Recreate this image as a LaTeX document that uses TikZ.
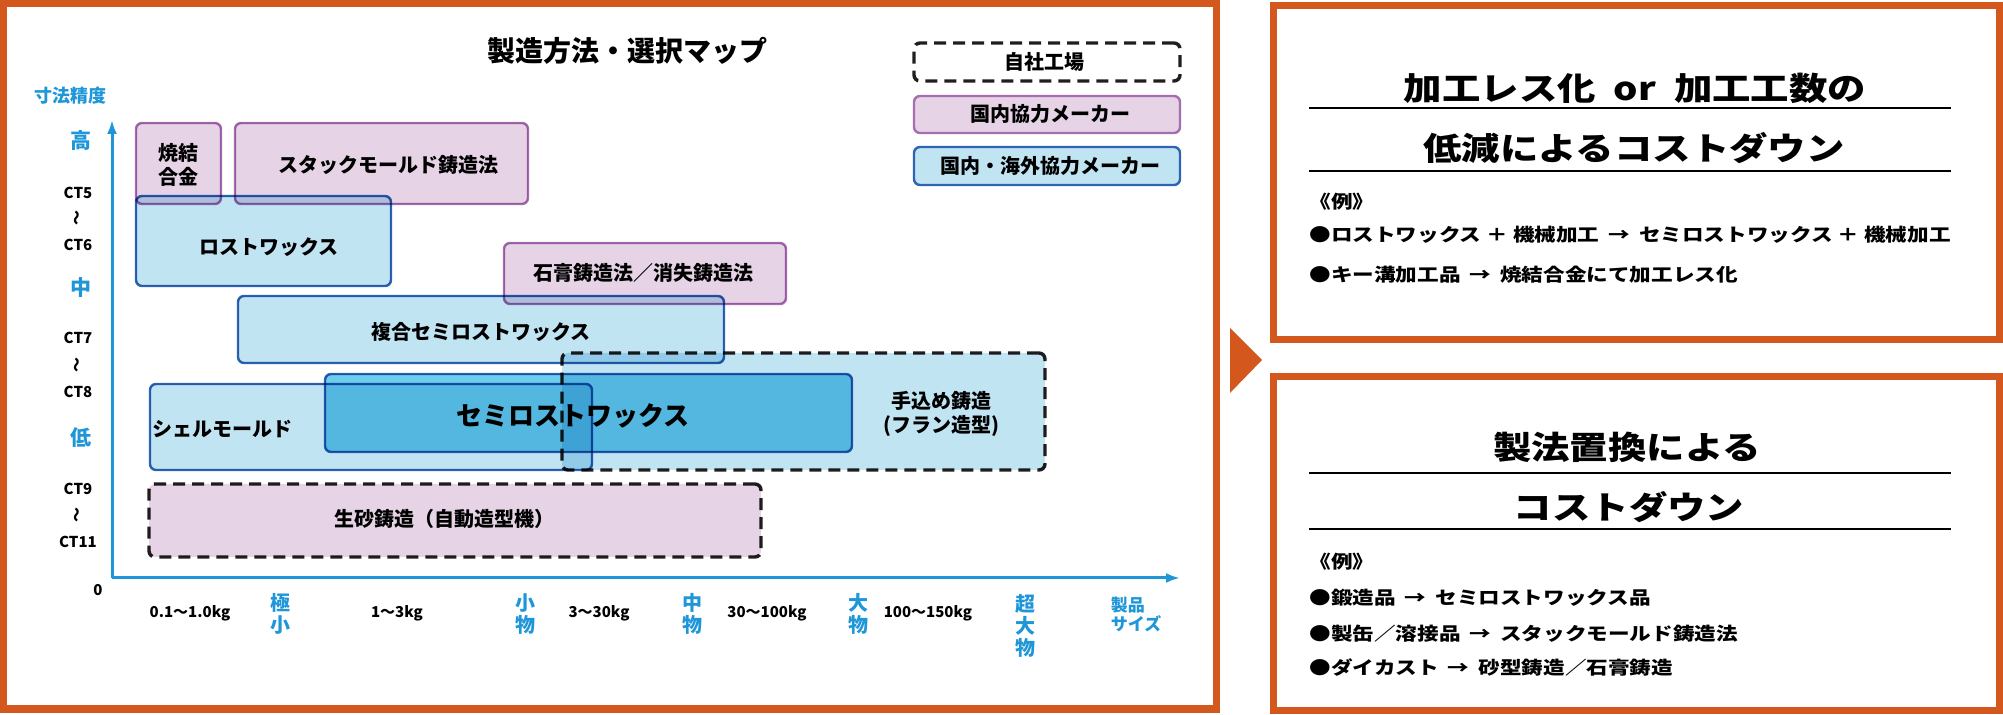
\documentclass[tikz,border=0pt]{standalone}
\usepackage{fontspec}
\setmainfont{Noto Sans CJK JP}
\newfontfamily\widejp{Noto Sans CJK JP}[FakeStretch=1.2]
\usetikzlibrary{arrows.meta,fit}
\definecolor{org}{RGB}{212,88,30}
\definecolor{axb}{RGB}{30,150,215}
\definecolor{pfill}{RGB}{230,212,230}
\definecolor{pdraw}{RGB}{166,109,176}
\definecolor{bfill}{RGB}{193,228,243}
\definecolor{bdraw}{RGB}{46,100,180}
\definecolor{sfill}{RGB}{110,205,235}
\definecolor{dashc}{RGB}{35,30,30}
\newcommand\pxs[2]{\fontsize{\fpeval{#1/2}pt}{\fpeval{#2/2}pt}\selectfont}
\newcommand\px[1]{\pxs{#1}{\fpeval{#1*1.2}}}
\newcommand\ar{\hspace{0.5em}→\hspace{0.5em}}
\tikzset{
 frame/.style={draw=org, line width=3.5pt},
 box/.style={rounded corners=3pt, line width=1.2pt, inner sep=0pt, outer sep=0pt},
 pbox/.style={box, draw=pdraw, fill=pfill},
 bbox/.style={box, draw=bdraw, fill=bfill},
 sbox/.style={box, draw=bdraw, fill=sfill},
 dbox/.style={box, draw=dashc, dash pattern=on 6pt off 3.5pt, line width=1.7pt},
 lbl/.style={font={\px{20}\bfseries}, inner sep=0pt, align=center},
 ylab/.style={font={\px{15}\bfseries}, inner sep=0pt},
 ybig/.style={font={\px{21}\bfseries}, text=axb, inner sep=0pt},
 xlab/.style={font={\px{15}\bfseries}, inner sep=0pt},
 xbig/.style={font={\pxs{20}{22}\bfseries}, text=axb, inner sep=0pt, align=center},
 axis/.style={draw=axb, line width=1.5pt},
 rtitle/.style={font={\widejp\px{32}\bfseries}, inner sep=0pt},
 rbody/.style={font={\widejp\px{18}\bfseries}, inner sep=0pt, anchor=west},
 uline/.style={draw=black, line width=1pt},
}
\begin{document}
\begin{tikzpicture}[x=0.5pt,y=-0.5pt]
\useasboundingbox (0,0) rectangle (2003,715);
% frames
\draw[frame] (3.5,3.5) rectangle (1216.5,709);
\draw[frame] (1273.5,6) rectangle (1999.5,340);
\draw[frame] (1273.5,377) rectangle (1999.5,710.5);
\fill[org] (1230,328) -- (1262,360) -- (1230,393) -- cycle;

% title
\node[font={\px{28}\bfseries}, inner sep=0pt] (title) at (627,51) {製造方法・選択マップ};

% axes
\coordinate (o) at (112,578);
\coordinate (ytip) at (112,120);
\coordinate (xtip) at (1180,578);
\draw[axis, -{Latex[length=7pt,width=5pt]}] (o) -- (ytip);
\draw[axis, -{Latex[length=7pt,width=5pt]}] (o) -- (xtip);
\node[font={\px{18}\bfseries}, text=axb, inner sep=0pt] (ylabel) at (70,96) {寸法精度};

% y labels
\node[ybig] (yh) at (81,141) {高};
\node[ylab] (ct5) at (78,193) {CT5};
\node[ylab] (w1) at (78,218) {\rotatebox{90}{〜}};
\node[ylab] (ct6) at (78,245) {CT6};
\node[ybig] (ym) at (81,288) {中};
\node[ylab] (ct7) at (78,338) {CT7};
\node[ylab] (w2) at (78,365) {\rotatebox{90}{〜}};
\node[ylab] (ct8) at (78,392) {CT8};
\node[ybig] (yl) at (81,438) {低};
\node[ylab] (ct9) at (78,489) {CT9};
\node[ylab] (w3) at (78,515) {\rotatebox{90}{〜}};
\node[ylab] (ct11) at (78,542) {CT11};
\node[ylab] (zero) at (98,590) {0};

% x labels
\node[xlab] (x1) at (190,613) {0.1〜1.0kg};
\node[xlab] (x2) at (397,613) {1〜3kg};
\node[xlab] (x3) at (599,613) {3〜30kg};
\node[xlab] (x4) at (767,613) {30〜100kg};
\node[xlab] (x5) at (928,613) {100〜150kg};
\node[xbig] (s1) at (280,614) {極\\小};
\node[xbig] (s2) at (525,614) {小\\物};
\node[xbig] (s3) at (692,614) {中\\物};
\node[xbig] (s4) at (858,614) {大\\物};
\node[xbig] (s5) at (1025,626) {超\\大\\物};
\node[font={\pxs{17}{19}\bfseries}, text=axb, inner sep=0pt, align=left] (s6) at (1136,614) {製品\\サイズ};

% boxes
\begin{scope}[blend mode=multiply]
\node[bbox, fit={(238,296)(724,363)}] (fk) {};
\node[bbox, fit={(150,384)(592,470)}] (sh) {};
\node[sbox, fit={(325,374)(852,452)}] (sm) {};
\node[pbox, fit={(136,123)(221,204)}] (yk) {};
\node[pbox, fit={(235,123)(528,204)}] (st) {};
\node[pbox, fit={(504,243)(786,304)}] (sk) {};
\node[bbox, fit={(136,196)(391,286)}] (lw) {};
\node[pbox, dbox, fit={(149,484)(761,557)}] (nm) {};
\end{scope}

\node[lbl] (tyk) at (178,165) {\pxs{20}{22}\bfseries 焼結\\合金};
\node[lbl] (tst) at (388,165) {スタックモールド鋳造法};
\node[lbl] (tlw) at (269,247) {ロストワックス};
\node[lbl] (tsk) at (643,273) {石膏鋳造法／消失鋳造法};
\node[lbl] (tfk) at (481,332) {複合セミロストワックス};
\node[lbl, anchor=west] (tsh) at (152,429) {シェルモールド};
\node[lbl, font={\px{26}\bfseries}] (tsm) at (573,416) {セミロストワックス};
\node[lbl] (tnm) at (444,519) {生砂鋳造（自動造型機）};

\begin{scope}[blend mode=multiply]
\node[bbox, dbox, fill=bfill, fit={(562,353)(1045,470)}] (tk) {};
\end{scope}
\node[lbl] (ttk) at (941,414) {\pxs{20}{21}\bfseries 手込め鋳造\\(フラン造型)};

% legend
\node[dbox, fill=white, fit={(914,43)(1180,81)}] (lg1) {};
\node[pbox, fit={(914,96)(1180,133)}] (lg2) {};
\node[bbox, fit={(914,147)(1180,185)}] (lg3) {};
\node[lbl] (tlg1) at (1044,62) {自社工場};
\node[lbl] (tlg2) at (1050,114) {国内協力メーカー};
\node[lbl] (tlg3) at (1050,166) {国内・海外協力メーカー};

% right top panel
\node[rtitle] (rt1) at (1635,88) {加工レス化\hspace{9pt}or\hspace{9pt}加工工数の};
\draw[uline] (1309,108) -- (1951,108);
\node[rtitle] (rt2) at (1634,148) {低減によるコストダウン};
\draw[uline] (1309,171) -- (1951,171);
\node[rbody] (re1) at (1309,202) {《例》};
\node[rbody] (rl1) at (1309,235) {●ロストワックス ＋ 機械加工\ar セミロストワックス ＋ 機械加工};
\node[rbody] (rl2) at (1309,275) {●キー溝加工品\ar 焼結合金にて加工レス化};

% right bottom panel
\node[rtitle] (rb1) at (1627,447) {製法置換による};
\draw[uline] (1309,473) -- (1951,473);
\node[rtitle] (rb2) at (1629,507) {コストダウン};
\draw[uline] (1309,529) -- (1951,529);
\node[rbody] (re2) at (1309,562) {《例》};
\node[rbody] (rm1) at (1309,598) {●鍛造品\ar セミロストワックス品};
\node[rbody] (rm2) at (1309,634) {●製缶／溶接品\ar スタックモールド鋳造法};
\node[rbody] (rm3) at (1309,668) {●ダイカスト\ar 砂型鋳造／石膏鋳造};
\end{tikzpicture}
\end{document}
